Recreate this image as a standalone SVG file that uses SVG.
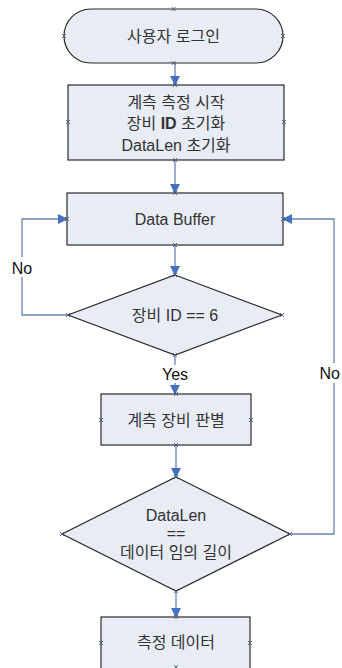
<svg xmlns="http://www.w3.org/2000/svg" width="342" height="668" viewBox="0 0 342 668">
<style>
.s{fill:#e8ecf5;stroke:#2b2b2b;stroke-width:1.2}
.t{font-family:"Liberation Sans","Noto Sans CJK KR",sans-serif;font-size:16px;fill:#333333;text-anchor:middle;dominant-baseline:central}
.c{fill:none;stroke:#6a82ad;stroke-width:1.3}
.x{stroke:#4a5a7a;stroke-width:0.9;fill:none}
.lb{font-family:"Liberation Sans",sans-serif;font-size:16px;fill:#111;text-anchor:middle;dominant-baseline:central}
</style>
<defs>
<marker id="ah" markerWidth="10" markerHeight="10" refX="9" refY="5" orient="auto" markerUnits="userSpaceOnUse">
<path d="M0,0 L10,5 L0,10 Z" fill="#4470bd"/>
</marker>
<path id="xm" d="M-2,-2 L2,2 M-2,2 L2,-2" class="x"/>
</defs>
<rect width="342" height="668" fill="#ffffff"/>
<g id="connectors">
<path class="c" d="M175,63 V85" marker-end="url(#ah)"/>
<path class="c" d="M175,160 V193" marker-end="url(#ah)"/>
<path class="c" d="M175,245 V275" marker-end="url(#ah)"/>
<path class="c" d="M175,355 V394" marker-end="url(#ah)"/>
<path class="c" d="M176,445 V477" marker-end="url(#ah)"/>
<path class="c" d="M176,591 V617" marker-end="url(#ah)"/>
<path class="c" d="M68,315 H22 V219 H67" marker-end="url(#ah)"/>
<path class="c" d="M290,534 H334 V219 H283" marker-end="url(#ah)"/>
<rect x="10" y="257" width="24" height="20" fill="#fff"/>
<text class="lb" x="22" y="268">No</text>
<rect x="160" y="365" width="32" height="18" fill="#fff"/>
<text class="lb" x="175" y="374">Yes</text>
<rect x="318" y="363" width="24" height="20" fill="#fff"/>
<text class="lb" x="340" y="373" style="text-anchor:end">No</text>
</g>
<g id="start">
<rect class="s" x="64" y="9" width="219" height="54" rx="27" ry="27"/>
<text class="t" x="173.5" y="36">사용자 로그인</text>
<use href="#xm" x="173.5" y="9"/><use href="#xm" x="64" y="36"/><use href="#xm" x="283" y="36"/><use href="#xm" x="173.5" y="63"/>
</g>
<g id="init">
<rect class="s" x="68" y="85" width="216" height="75"/>
<text class="t" x="176" y="102">계측 측정 시작</text>
<text class="t" x="176" y="123">장비 <tspan font-weight="bold">ID</tspan> 초기화</text>
<text class="t" x="176" y="145">DataLen 초기화</text>
<use href="#xm" x="175" y="85"/><use href="#xm" x="68" y="122"/><use href="#xm" x="284" y="122"/><use href="#xm" x="175" y="160"/>
</g>
<g id="buffer">
<rect class="s" x="67" y="193" width="216" height="52"/>
<text class="t" x="175" y="219">Data Buffer</text>
<use href="#xm" x="175" y="193"/><use href="#xm" x="67" y="219"/><use href="#xm" x="283" y="219"/><use href="#xm" x="175" y="245"/>
</g>
<g id="check-id">
<polygon class="s" points="175,275 282,315 175,355 68,315"/>
<text class="t" x="175" y="315">장비 ID == 6</text>
<use href="#xm" x="175" y="275"/><use href="#xm" x="68" y="315"/><use href="#xm" x="282" y="315"/><use href="#xm" x="175" y="355"/>
</g>
<g id="identify">
<rect class="s" x="101" y="394" width="150" height="51"/>
<text class="t" x="176" y="420">계측 장비 판별</text>
<use href="#xm" x="176" y="394"/><use href="#xm" x="101" y="420"/><use href="#xm" x="251" y="420"/><use href="#xm" x="176" y="445"/>
</g>
<g id="check-len">
<polygon class="s" points="176,477 290,534 176,591 62,534"/>
<text class="t" x="176" y="515">DataLen</text>
<text class="t" x="176" y="533">==</text>
<text class="t" x="176" y="552">데이터  임의 길이</text>
<use href="#xm" x="176" y="477"/><use href="#xm" x="62" y="534"/><use href="#xm" x="290" y="534"/><use href="#xm" x="176" y="591"/>
</g>
<g id="measure">
<rect class="s" x="101" y="617" width="149" height="53"/>
<text class="t" x="176" y="642">측정 데이터</text>
<use href="#xm" x="176" y="617"/><use href="#xm" x="101" y="643"/><use href="#xm" x="250" y="643"/><use href="#xm" x="176" y="667"/>
</g>
</svg>
